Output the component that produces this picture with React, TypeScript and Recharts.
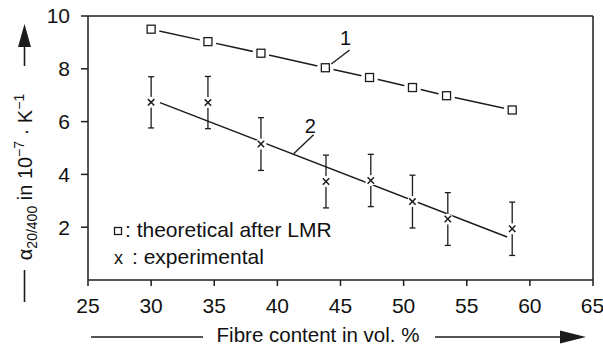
import { ScatterChart, Scatter, XAxis, YAxis, ErrorBar, ReferenceLine } from "recharts";

// fibre content (vol. %) of the measured samples
const fibreTheo = [30, 34.5, 38.7, 43.8, 47.3, 50.7, 53.4, 58.6];
const alphaTheo = [9.5, 9.03, 8.59, 8.04, 7.67, 7.29, 6.98, 6.44];

const fibreExp = [30, 34.5, 38.7, 43.85, 47.4, 50.7, 53.5, 58.6];
const alphaExp = [6.73, 6.72, 5.15, 3.73, 3.77, 2.97, 2.31, 1.94];
const alphaErr = [0.97, 0.99, 1.0, 1.0, 0.99, 1.0, 1.0, 1.01];

// straight fit through the experimental points (curve 2)
const fitX = [30.7, 58.2];
const fitY = [6.72, 1.63];

// curve labels and their leader lines
const curveNames = ["1", "2"];
const curveLabelX = [45.4, 42.6];
const curveLabelY = [9.17, 5.84];
const leaderX = [[45.72, 44.27], [42.87, 41.29]];
const leaderY = [[8.71, 8.18], [5.5, 4.78]];

const xTicks = [25, 30, 35, 40, 45, 50, 55, 60, 65];
const yTicks = [2, 4, 6, 8, 10];

const ink = "#1c1c1c";
const font = "'Liberation Sans', Arial, Helvetica, sans-serif";

const theoData = fibreTheo.map((x, i) => ({ x, y: alphaTheo[i] }));
const expData = fibreExp.map((x, i) => ({ x, y: alphaExp[i], err: alphaErr[i] }));
const fitData = fitX.map((x, i) => ({ x, y: fitY[i] }));
const leaderData = leaderX.map((xs, k) => xs.map((x, i) => ({ x, y: leaderY[k][i] })));
const labelData = curveNames.map((name, i) => ({ x: curveLabelX[i], y: curveLabelY[i], name }));

function SquareDot(props: any) {
  const { cx, cy } = props;
  if (cx == null || cy == null) return <g />;
  return (
    <g>
      <circle cx={cx} cy={cy} r={8.5} fill="#fff" />
      <rect x={cx - 4} y={cy - 4} width={8} height={8} fill="#fff" stroke={ink} strokeWidth={1.3} />
    </g>
  );
}

function CrossDot(props: any) {
  const { cx, cy } = props;
  if (cx == null || cy == null) return <g />;
  const s = 3.2;
  return (
    <g>
      <circle cx={cx} cy={cy} r={5.5} fill="#fff" />
      <line x1={cx - s} y1={cy - s} x2={cx + s} y2={cy + s} stroke={ink} strokeWidth={1.5} />
      <line x1={cx - s} y1={cy + s} x2={cx + s} y2={cy - s} stroke={ink} strokeWidth={1.5} />
    </g>
  );
}

function NameDot(props: any) {
  const { cx, cy, payload } = props;
  if (cx == null || cy == null) return <g />;
  return (
    <text x={cx} y={cy} textAnchor="middle" dominantBaseline="central" fontSize={20} fontFamily={font} fill="#111">
      {payload.name}
    </text>
  );
}

const NoDot = () => <g />;

export default function App() {
  return (
    <div style={{ position: "absolute", left: 0, top: 0, width: 603, height: 345, background: "#fff" }}>
      <ScatterChart width={603} height={345} margin={{ top: 16, right: 10, left: 0, bottom: 35 }}>
        <XAxis
          type="number"
          dataKey="x"
          domain={[25, 65]}
          ticks={xTicks}
          height={30}
          tickSize={6}
          tickMargin={12}
          stroke={ink}
          strokeWidth={1.5}
          tick={{ fill: "#111", fontSize: 21, fontFamily: font }}
          allowDataOverflow
        />
        <YAxis
          type="number"
          dataKey="y"
          domain={[0, 10]}
          ticks={yTicks}
          width={88}
          tickSize={7}
          tickMargin={11}
          stroke={ink}
          strokeWidth={1.5}
          tick={{ fill: "#111", fontSize: 21, fontFamily: font }}
          allowDataOverflow
        />
        <ReferenceLine y={10} stroke={ink} strokeWidth={1.5} />
        <ReferenceLine x={65} stroke={ink} strokeWidth={1.5} />

        <Scatter data={fitData} line={{ stroke: ink, strokeWidth: 1.5 }} shape={NoDot} isAnimationActive={false} />
        <Scatter data={theoData} line={{ stroke: ink, strokeWidth: 1.5 }} shape={SquareDot} isAnimationActive={false} />
        {/* error bars first, crosses on top so they open a small gap in the bars */}
        <Scatter data={expData} shape={NoDot} isAnimationActive={false}>
          <ErrorBar dataKey="err" direction="y" width={3} stroke={ink} strokeWidth={1.3} isAnimationActive={false} />
        </Scatter>
        <Scatter data={expData} shape={CrossDot} isAnimationActive={false} />

        {leaderData.map((d, k) => (
          <Scatter key={k} data={d} line={{ stroke: ink, strokeWidth: 1.4 }} shape={NoDot} isAnimationActive={false} />
        ))}
        <Scatter data={labelData} shape={NameDot} isAnimationActive={false} />
      </ScatterChart>

      <svg width={603} height={345} style={{ position: "absolute", left: 0, top: 0, pointerEvents: "none" }}>
        {/* legend */}
        <rect x={114.5} y={227.5} width={7} height={7} fill="none" stroke={ink} strokeWidth={1.3} />
        <text x={125} y={237} fontSize={21} fontFamily={font} fill="#111">: theoretical after LMR</text>
        <text x={114} y={264} fontSize={18} fontFamily={font} fill="#111">x</text>
        <text x={132} y={264} fontSize={21} fontFamily={font} fill="#111">: experimental</text>

        {/* y axis title with arrow */}
        <line x1={24.5} y1={270} x2={24.5} y2={302} stroke={ink} strokeWidth={1.6} />
        <text transform="translate(32,177) rotate(-90)" textAnchor="middle" fontSize={20} fontFamily={font} fill="#111">
          α<tspan fontSize={14} dy={5}>20/400</tspan>
          <tspan dy={-5}> in 10</tspan>
          <tspan fontSize={14} dy={-8}>−7</tspan>
          <tspan dy={8}> · K</tspan>
          <tspan fontSize={14} dy={-8}>−1</tspan>
        </text>
        <line x1={24.5} y1={66} x2={24.5} y2={44} stroke={ink} strokeWidth={1.6} />
        <polygon points="24.5,24 18,47 31,47" fill={ink} />

        {/* x axis title with arrow */}
        <line x1={91} y1={337} x2={203} y2={337} stroke={ink} strokeWidth={1.6} />
        <text x={318} y={342} textAnchor="middle" fontSize={20.5} fontFamily={font} fill="#111">Fibre content in vol. %</text>
        <line x1={435} y1={337} x2={565} y2={337} stroke={ink} strokeWidth={1.6} />
        <polygon points="586,337 560,330.5 560,343.5" fill={ink} />
      </svg>
    </div>
  );
}
